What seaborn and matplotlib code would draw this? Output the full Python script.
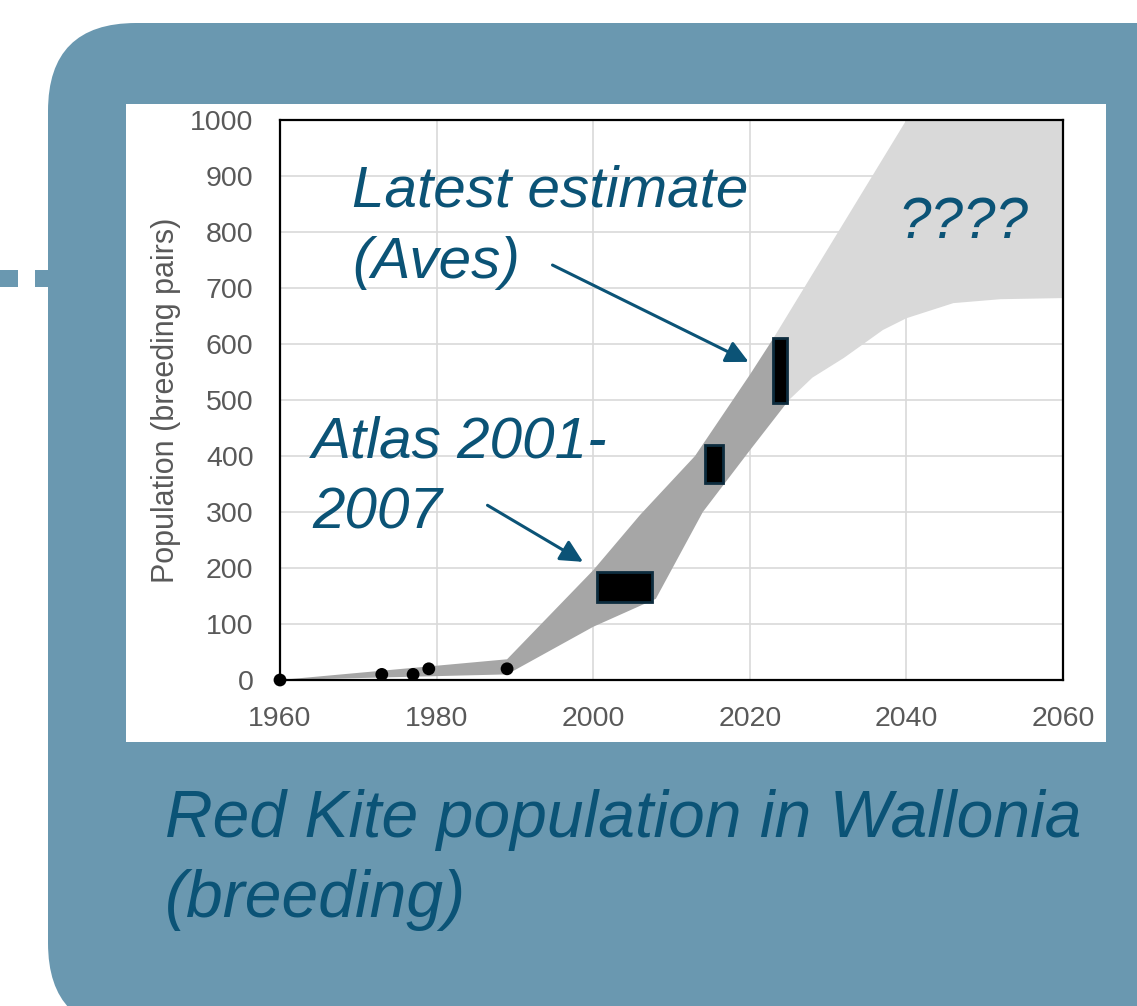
import numpy as np
import pandas as pd
import matplotlib as mpl
from matplotlib import pyplot as plt
from matplotlib.patches import FancyBboxPatch, Rectangle
import seaborn as sns

sns.set_theme(style="whitegrid")
plt.rcParams['font.family'] = ['Liberation Sans', 'DejaVu Sans']

# counted breeding pairs
count_years = [1960, 1973, 1977, 1979, 1989]
count_pairs = [0, 10, 10, 20, 20]

# known range (dark grey band)
band_upper_years = [1960, 1989, 2000, 2006, 2013, 2020, 2023]
band_upper = [0, 37, 196, 295, 400, 545, 610]
band_lower_years = [1960, 1989, 2000, 2008, 2014, 2020, 2025]
band_lower = [0, 10, 95, 145, 300, 410, 500]

# projection (light grey band)
proj_upper_years = [2023, 2040, 2060]
proj_upper = [610, 1000, 1000]
proj_lower_years = [2025, 2028, 2032, 2037, 2040, 2046, 2052, 2060]
proj_lower = [500, 540, 575, 625, 646, 673, 680, 682]

# survey estimates (min-max boxes)
est_start = [2000.5, 2014.3, 2023.0]
est_end = [2007.5, 2016.6, 2024.7]
est_low = [140, 352, 495]
est_high = [192, 420, 610]

panel_col = '#6a98b0'
text_col = '#0b5376'
tick_col = '#595959'

W, H = 1137, 1006
fig = plt.figure(figsize=(W / 100, H / 100), dpi=100)
fig.patch.set_facecolor('white')
px = mpl.transforms.IdentityTransform()

# slide decoration: rounded panel, white chart box, dashed connector
fig.patches.append(FancyBboxPatch((48, -25), 1300, H - 23 + 25,
                                  boxstyle="round,pad=0,rounding_size=88",
                                  transform=px, facecolor=panel_col, edgecolor='none', zorder=-2))
fig.patches.append(Rectangle((126, H - 742), 980, 638, transform=px,
                             facecolor='white', edgecolor='none', zorder=-1))
for x0, w in [(0, 18), (35, 14)]:
    fig.patches.append(Rectangle((x0, H - 287), w, 17, transform=px,
                                 facecolor=panel_col, edgecolor='none', zorder=-1))

ax = fig.add_axes([280 / W, (H - 680) / H, 783 / W, 560 / H])
ax.set_zorder(1)
ax.set_facecolor('white')

# bands
ax.fill(proj_upper_years + proj_lower_years[::-1], proj_upper + proj_lower[::-1],
        color='#d9d9d9', lw=0, zorder=1)
ax.fill(band_upper_years + band_lower_years[::-1], band_upper + band_lower[::-1],
        color='#a6a6a6', lw=0, zorder=2)

# estimate boxes
est = pd.DataFrame({'start': est_start, 'end': est_end, 'low': est_low, 'high': est_high})
ax.bar(x=(est['start'] + est['end']) / 2, height=est['high'] - est['low'], bottom=est['low'],
       width=est['end'] - est['start'], color='black', edgecolor='#0d2c3e', linewidth=2, zorder=3)

# counts
counts = pd.DataFrame({'year': count_years, 'pairs': count_pairs})
sns.scatterplot(data=counts, x='year', y='pairs', ax=ax, color='black', s=85,
                edgecolor='none', clip_on=False, zorder=5)

ax.set_xlim(1960, 2060)
ax.set_ylim(0, 1000)
ax.set_xticks(range(1960, 2061, 20))
ax.set_yticks(range(0, 1001, 100))
ax.grid(color='#d9d9d9', lw=1.2)
ax.set_axisbelow(True)
for s in ax.spines.values():
    s.set_color('black')
    s.set_linewidth(1.6)
ax.tick_params(length=0, labelsize=20.5, labelcolor=tick_col, pad=19)
ax.set_xlabel('')
ax.set_ylabel('Population (breeding pairs)', fontsize=22, color=tick_col)
ax.yaxis.set_label_coords(-0.126, 0.5)

# annotations
kw = dict(fontsize=42, style='italic', color=text_col, va='top', ha='left', linespacing=1.4)
ax.text(1969.2, 920, 'Latest estimate\n(Aves)', **kw)
ax.text(1964.1, 472, 'Atlas 2001-\n2007', **kw)
ax.text(2039.0, 865, '????', **kw)
arrow = dict(arrowstyle='-|>', lw=2.2, color=text_col, mutation_scale=34, shrinkA=0, shrinkB=0)
ax.annotate('', xy=(2019.85, 568), xytext=(1994.8, 741), arrowprops=arrow, zorder=6)
ax.annotate('', xy=(1998.7, 211), xytext=(1986.5, 312), arrowprops=arrow, zorder=6)

fig.text(165 / W, (H - 789) / H, 'Red Kite population in Wallonia\n(breeding)',
         fontsize=47.5, style='italic', color=text_col, va='top', ha='left', linespacing=1.37)

fig.savefig('out.png', dpi=100)
